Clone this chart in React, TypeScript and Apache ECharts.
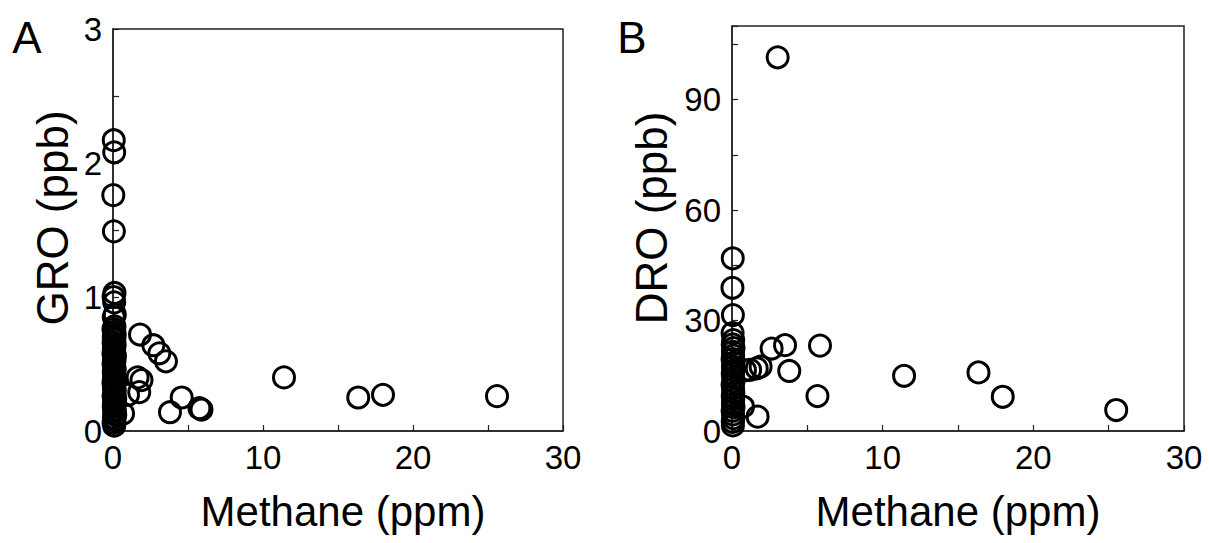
import React, { useEffect, useRef } from "react";
import * as echarts from "echarts";

// Panel A: Methane (ppm) vs GRO (ppb)
const methaneA = [
  0.05, 0.08, 0.02, 0.06, 0.1, 0.04, 0.08, 0.12, 0.05, 0.1, 0.03, 0.07, 0.12, 0.05, 0.09, 0.04, 0.11, 0.06,
  0.08, 0.03, 0.13, 0.06, 0.1, 0.04, 0.08, 0.12, 0.05, 0.09, 0.07, 0.14, 0.03, 0.1, 0.06, 0.12, 0.08, 0.04,
  0.15, 0.07, 0.1, 0.05, 0.12, 0.08, 0.15, 0.06, 0.1, 0.04, 0.08,
  0.67, 1.0, 1.75, 1.64, 1.9, 1.8, 2.69, 3.09, 3.53, 3.8, 4.58, 5.76, 5.9, 11.4, 16.35, 18.0, 25.6,
];
const groA = [
  2.17, 2.08, 1.76, 1.49, 1.03, 1.0, 0.96, 0.87, 0.85, 0.78, 0.76, 0.74, 0.72, 0.7, 0.68, 0.66, 0.64, 0.62,
  0.6, 0.58, 0.56, 0.54, 0.52, 0.5, 0.48, 0.46, 0.44, 0.42, 0.4, 0.38, 0.36, 0.34, 0.32, 0.3, 0.28, 0.26,
  0.24, 0.22, 0.2, 0.18, 0.16, 0.14, 0.12, 0.1, 0.08, 0.06, 0.04,
  0.13, 0.27, 0.29, 0.4, 0.38, 0.72, 0.64, 0.58, 0.52, 0.14, 0.25, 0.17, 0.16, 0.4, 0.25, 0.27, 0.26,
];

// Panel B: Methane (ppm) vs DRO (ppb)
const methaneB = [
  0.05, 0.03, 0.06, 0.04, 0.08, 0.05, 0.1, 0.06, 0.08, 0.04, 0.1, 0.06, 0.09, 0.05, 0.08, 0.1, 0.04, 0.07,
  0.09, 0.05, 0.08, 0.06, 0.1, 0.04, 0.07, 0.09, 0.05, 0.06,
  3.03, 2.63, 3.52, 5.84, 1.2, 1.64, 1.9, 3.8, 5.67, 1.7, 0.73, 0.86, 11.42, 16.36, 17.97, 25.5,
];
const droB = [
  46.9, 38.9, 31.5, 26.6, 24.7, 23.5, 22.5, 21.5, 20.5, 19.5, 18.5, 17.5, 16.5, 15.5, 14.5, 13.5, 12.5, 11.5,
  10.5, 9.5, 8.5, 7.5, 6.5, 5.5, 4.5, 3.5, 2.5, 1.5,
  101.5, 22.4, 23.3, 23.2, 16.6, 17.0, 17.5, 16.3, 9.5, 3.9, 6.6, 16.5, 15.0, 15.9, 9.3, 5.7,
];

const xMax = 30;
const xStep = 5;
const xLabelStep = 10;
const yMaxA = 3;
const yStepA = 0.5;
const yMaxB = 110;
const yStepB = 15;
const yLabelStepB = 30;

const FONT = "Liberation Sans, Arial, Helvetica, sans-serif";

function makeX(gridIndex: number) {
  return {
    type: "value",
    gridIndex,
    min: 0,
    max: xMax,
    interval: xStep,
    axisLine: { show: true, lineStyle: { color: "#222", width: 1.5 } },
    axisTick: { show: true, inside: true, length: 6, lineStyle: { color: "#222", width: 1.2 } },
    splitLine: { show: false },
    axisLabel: {
      color: "#000",
      fontSize: 33,
      fontFamily: FONT,
      margin: 10,
      formatter: (v: number) => (v % xLabelStep === 0 ? String(v) : ""),
    },
  };
}

function makeY(gridIndex: number, max: number, step: number, labelOk: (v: number) => boolean) {
  return {
    type: "value",
    gridIndex,
    min: 0,
    max,
    interval: step,
    axisLine: { show: true, lineStyle: { color: "#222", width: 1.5 } },
    axisTick: { show: true, inside: true, length: 6, lineStyle: { color: "#222", width: 1.2 } },
    splitLine: { show: false },
    axisLabel: {
      color: "#000",
      fontSize: 33,
      fontFamily: FONT,
      margin: 11,
      formatter: (v: number) => (labelOk(v) ? String(v) : ""),
    },
  };
}

const circleStyle = {
  color: "rgba(0,0,0,0)",
  borderColor: "#000",
  borderWidth: 3,
  opacity: 1,
};

export default function App() {
  const ref = useRef<HTMLDivElement>(null);
  useEffect(() => {
    if (!ref.current) return;
    const chart = echarts.init(ref.current, undefined, { renderer: "svg" });
    const dataA = methaneA.map((m, i) => [m, groA[i]]);
    const dataB = methaneB.map((m, i) => [m, droB[i]]);
    chart.setOption({
      animation: false,
      backgroundColor: "#fff",
      grid: [
        { left: 113, top: 29, width: 450, height: 402, show: true, borderColor: "#222", borderWidth: 1.5, backgroundColor: "transparent" },
        { left: 732, top: 26, width: 452, height: 405, show: true, borderColor: "#222", borderWidth: 1.5, backgroundColor: "transparent" },
      ],
      xAxis: [makeX(0), makeX(1)],
      yAxis: [
        makeY(0, yMaxA, yStepA, (v) => Number.isInteger(v)),
        makeY(1, yMaxB, yStepB, (v) => v % yLabelStepB === 0),
      ],
      series: [
        { type: "scatter", xAxisIndex: 0, yAxisIndex: 0, data: dataA, symbol: "circle", symbolSize: 21, itemStyle: circleStyle, clip: false },
        { type: "scatter", xAxisIndex: 1, yAxisIndex: 1, data: dataB, symbol: "circle", symbolSize: 21, itemStyle: circleStyle, clip: false },
      ],
      graphic: [
        { type: "text", x: 27, y: 37, style: { text: "A", fontSize: 44, fontFamily: FONT, fill: "#000", textAlign: "center", textVerticalAlign: "middle" } },
        { type: "text", x: 632, y: 37, style: { text: "B", fontSize: 44, fontFamily: FONT, fill: "#000", textAlign: "center", textVerticalAlign: "middle" } },
        { type: "text", x: 343, y: 511, style: { text: "Methane (ppm)", fontSize: 42, fontFamily: FONT, fill: "#000", textAlign: "center", textVerticalAlign: "middle" } },
        { type: "text", x: 958, y: 511, style: { text: "Methane (ppm)", fontSize: 42, fontFamily: FONT, fill: "#000", textAlign: "center", textVerticalAlign: "middle" } },
        { type: "text", x: 52, y: 218, rotation: Math.PI / 2, style: { text: "GRO (ppb)", fontSize: 44, fontFamily: FONT, fill: "#000", textAlign: "center", textVerticalAlign: "middle" } },
        { type: "text", x: 651, y: 218, rotation: Math.PI / 2, style: { text: "DRO (ppb)", fontSize: 44, fontFamily: FONT, fill: "#000", textAlign: "center", textVerticalAlign: "middle" } },
      ],
    });
    return () => chart.dispose();
  }, []);
  return (
    <div
      ref={ref}
      style={{ position: "fixed", left: 0, top: 0, width: 1209, height: 543, background: "#fff" }}
    />
  );
}
